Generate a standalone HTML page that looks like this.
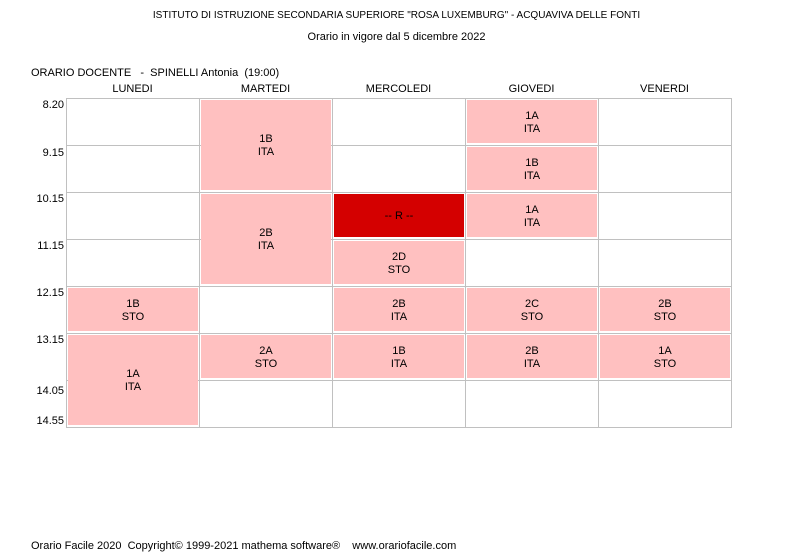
<!DOCTYPE html>
<html><head><meta charset="utf-8"><style>
body{margin:0;width:793px;height:559px;background:#fff;font-family:"Liberation Sans",sans-serif;font-size:11px;color:#000;position:relative;overflow:hidden}
.a{position:absolute;white-space:nowrap}
.c{text-align:center}
.h{position:absolute;left:66px;width:665px;height:1px;background:#c0c0c0}
.v{position:absolute;top:98px;height:330px;width:1px;background:#c0c0c0}
.t{position:absolute;width:64px;text-align:right;left:0}
.b{position:absolute;background:#ffc0c0;width:130px;display:flex;align-items:center;justify-content:center;text-align:center;line-height:13px;padding-top:2px;box-sizing:border-box}
.r{background:#d40000}
</style></head><body>
<div class="a c" style="left:0;width:793px;top:10px;font-size:10px">ISTITUTO DI ISTRUZIONE SECONDARIA SUPERIORE "ROSA LUXEMBURG" - ACQUAVIVA DELLE FONTI</div>
<div class="a c" style="left:0;width:793px;top:31px">Orario in vigore dal 5 dicembre 2022</div>
<div class="a" style="left:31px;top:67px;font-size:11px">ORARIO DOCENTE &nbsp; - &nbsp;SPINELLI Antonia &nbsp;(19:00)</div>
<div class="a c" style="left:66px;width:133px;top:83px">LUNEDI</div>
<div class="a c" style="left:199px;width:133px;top:83px">MARTEDI</div>
<div class="a c" style="left:332px;width:133px;top:83px">MERCOLEDI</div>
<div class="a c" style="left:465px;width:133px;top:83px">GIOVEDI</div>
<div class="a c" style="left:598px;width:133px;top:83px">VENERDI</div>

<div class="h" style="top:98px"></div><div class="h" style="top:145px"></div><div class="h" style="top:192px"></div><div class="h" style="top:239px"></div><div class="h" style="top:286px"></div><div class="h" style="top:333px"></div><div class="h" style="top:380px"></div><div class="h" style="top:427px"></div>
<div class="v" style="left:66px"></div><div class="v" style="left:199px"></div><div class="v" style="left:332px"></div><div class="v" style="left:465px"></div><div class="v" style="left:598px"></div><div class="v" style="left:731px"></div>

<div class="t" style="top:99px">8.20</div>
<div class="t" style="top:147px">9.15</div>
<div class="t" style="top:193px">10.15</div>
<div class="t" style="top:240px">11.15</div>
<div class="t" style="top:287px">12.15</div>
<div class="t" style="top:334px">13.15</div>
<div class="t" style="top:385px">14.05</div>
<div class="t" style="top:415px">14.55</div>

<div class="b" style="left:68px;top:288px;height:43px">1B<br>STO</div>
<div class="b" style="left:68px;top:335px;height:90px">1A<br>ITA</div>

<div class="b" style="left:201px;top:100px;height:90px">1B<br>ITA</div>
<div class="b" style="left:201px;top:194px;height:90px">2B<br>ITA</div>
<div class="b" style="left:201px;top:335px;height:43px">2A<br>STO</div>

<div class="b r" style="left:334px;top:194px;height:43px">-- R --</div>
<div class="b" style="left:334px;top:241px;height:43px">2D<br>STO</div>
<div class="b" style="left:334px;top:288px;height:43px">2B<br>ITA</div>
<div class="b" style="left:334px;top:335px;height:43px">1B<br>ITA</div>

<div class="b" style="left:467px;top:100px;height:43px">1A<br>ITA</div>
<div class="b" style="left:467px;top:147px;height:43px">1B<br>ITA</div>
<div class="b" style="left:467px;top:194px;height:43px">1A<br>ITA</div>
<div class="b" style="left:467px;top:288px;height:43px">2C<br>STO</div>
<div class="b" style="left:467px;top:335px;height:43px">2B<br>ITA</div>

<div class="b" style="left:600px;top:288px;height:43px">2B<br>STO</div>
<div class="b" style="left:600px;top:335px;height:43px">1A<br>STO</div>

<div class="a" style="left:31px;top:540px">Orario Facile 2020 &nbsp;Copyright© 1999-2021 mathema software® &nbsp;&nbsp; www.orariofacile.com</div>
</body></html>
